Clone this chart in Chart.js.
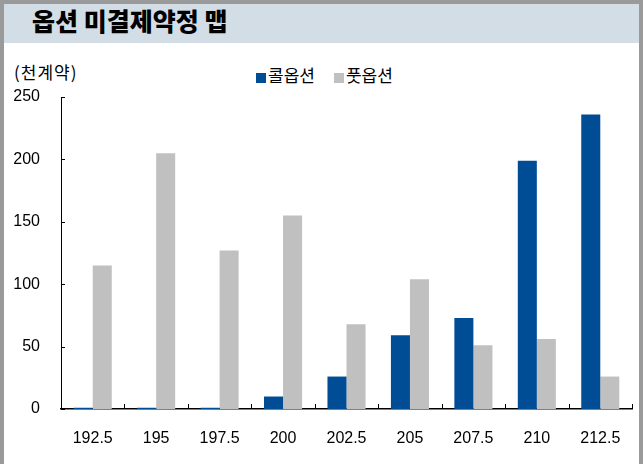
<!DOCTYPE html>
<html>
<head>
<meta charset="utf-8">
<script src="https://cdn.jsdelivr.net/npm/chart.js@4/dist/chart.umd.min.js"></script>
<style>
  html, body { margin: 0; padding: 0; background: #fff; }
  #wrap { position: relative; width: 643px; height: 464px; overflow: hidden; background: #fff; }
  #frame { position: absolute; left: 0; top: 0; width: 635px; height: 470px;
           border: 4px solid #9a9a9a; border-bottom: none; }
  #titleBar { position: absolute; left: 4px; top: 4px; width: 635px; height: 39px; background: #d3dde6; }
  #title { position: absolute; left: 32px; top: 5px; font-family: 'Noto Sans CJK KR', sans-serif;
           font-weight: 900; font-size: 25px; line-height: 30px; color: #000; }
  #unit { position: absolute; left: 14px; top: 59px; font-family: 'Noto Sans CJK KR', sans-serif;
          font-size: 17px; letter-spacing: 1px; color: #000; }
  #legend { position: absolute; left: 256px; top: 62px; font-family: 'Noto Sans CJK KR', sans-serif;
            font-size: 17px; color: #000; white-space: nowrap; }
  #legend span.box { display: inline-block; width: 10px; height: 10px; margin-right: 2px; vertical-align: -1px; }
  #legend span.item { margin-right: 19px; }
  canvas { position: absolute; left: 0; top: 0; }
</style>
</head>
<body>
<div id="wrap">
  <div id="frame"></div>
  <div id="titleBar"></div>
  <div id="title">옵션 미결제약정 맵</div>
  <div id="unit">(천계약)</div>
  <div id="legend"></div>
  <canvas id="oiChart" width="643" height="464"></canvas>
</div>
<script>
// data (천계약)
const strikes = ['192.5', '195', '197.5', '200', '202.5', '205', '207.5', '210', '212.5'];
const callOI = [1, 1, 1, 10, 26, 59, 73, 199, 236];
const putOI = [115, 205, 127, 155, 68, 104, 51, 56, 26];
const yTicks = [0, 50, 100, 150, 200, 250];

const seriesNames = ['콜옵션', '풋옵션'];
const seriesColors = ['#004d96', '#c0c0c0'];

// legend (html)
const legendBox = document.getElementById('legend');
seriesNames.forEach((name, i) => {
    const item = document.createElement('span');
    item.className = 'item';
    item.innerHTML = '<span class="box" style="background:' + seriesColors[i] + '"></span>' + name;
    legendBox.appendChild(item);
});

// inward tick marks on both axes
const innerTicks = {
    id: 'innerTicks',
    afterDraw(chart) {
        const c = chart.ctx;
        const x = chart.scales.x;
        const y = chart.scales.y;
        c.save();
        c.strokeStyle = '#000';
        c.lineWidth = 1;
        yTicks.forEach(v => {
            const py = Math.round(y.getPixelForValue(v)) + 0.5;
            c.beginPath();
            c.moveTo(x.left, py);
            c.lineTo(x.left + 4, py);
            c.stroke();
        });
        const half = (x.getPixelForValue(1) - x.getPixelForValue(0)) / 2;
        for (let i = 0; i < strikes.length; i++) {
            const px = Math.round(x.getPixelForValue(i) + half) + 0.5;
            c.beginPath();
            c.moveTo(px, y.bottom);
            c.lineTo(px, y.bottom - 5);
            c.stroke();
        }
        c.restore();
    }
};

Chart.defaults.font.family = "'Liberation Sans Narrow', 'Liberation Sans', sans-serif";
Chart.defaults.font.size = 16;
Chart.defaults.color = '#000';

new Chart(document.getElementById('oiChart'), {
    type: 'bar',
    data: {
        labels: strikes,
        datasets: [
            { label: seriesNames[0], data: callOI, backgroundColor: seriesColors[0] },
            { label: seriesNames[1], data: putOI, backgroundColor: seriesColors[1] }
        ]
    },
    options: {
        responsive: false,
        animation: false,
        events: [],
        categoryPercentage: 0.6,
        barPercentage: 1.0,
        layout: { padding: { left: 0, right: 11, top: 97, bottom: 0 } },
        plugins: {
            legend: { display: false },
            tooltip: { enabled: false },
            title: { display: false }
        },
        scales: {
            x: {
                grid: { display: false, drawTicks: false },
                border: { display: true, color: '#000', width: 1.5 },
                ticks: { padding: 20, maxRotation: 0, autoSkip: false },
                afterFit: (scale) => { scale.height = 55; }
            },
            y: {
                min: 0,
                max: 250,
                grid: { display: false, drawTicks: false },
                border: { display: true, color: '#000', width: 1 },
                ticks: { stepSize: 50, padding: 21 },
                afterFit: (scale) => { scale.width = 61; }
            }
        }
    },
    plugins: [innerTicks]
});
</script>
</body>
</html>
